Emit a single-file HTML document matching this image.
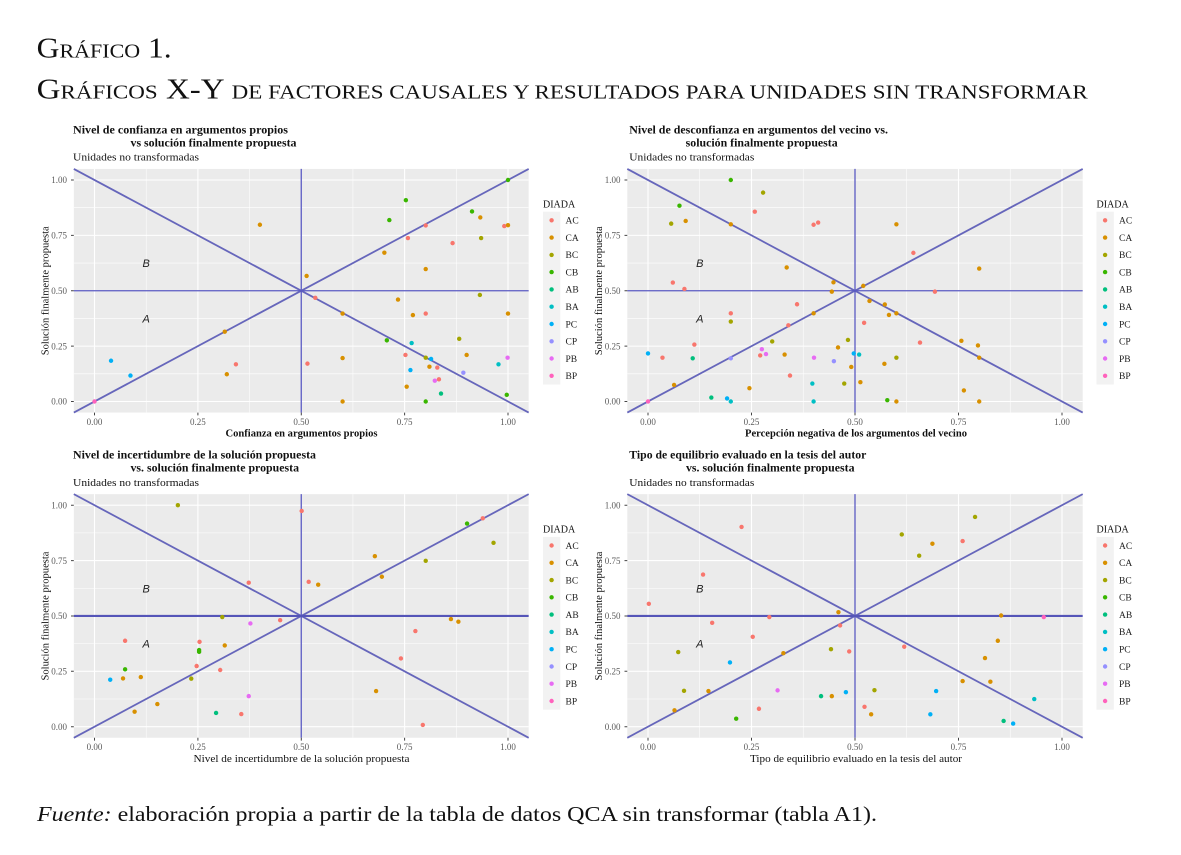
<!DOCTYPE html>
<html><head><meta charset="utf-8">
<style>
html,body{margin:0;padding:0;background:#fff;}
svg{display:block;}
.ac{fill:#F8766D}.ca{fill:#D89000}.bc{fill:#A3A500}.cb{fill:#39B600}.ab{fill:#00BF7D}
.ba{fill:#00BFC4}.pc{fill:#00B0F6}.cp{fill:#9590FF}.pb{fill:#E76BF3}.bp{fill:#FF62BC}
.ser{font-family:"Liberation Serif",serif;}
.tk{font-family:"Liberation Serif",serif;font-size:9px;fill:#5a5a5a;}
.tt{font-family:"Liberation Serif",serif;font-size:11.5px;font-weight:bold;fill:#111;}
.st{font-family:"Liberation Serif",serif;font-size:11px;fill:#111;}
.ax{font-family:"Liberation Serif",serif;font-size:10.5px;fill:#111;}
.lg{font-family:"Liberation Serif",serif;font-size:9.5px;fill:#222;}
.ab2{font-family:"Liberation Sans",sans-serif;font-size:11px;font-style:italic;fill:#222;}
.mi{stroke:#fff;stroke-width:.55;fill:none;}
.ma{stroke:#fff;stroke-width:1.1;fill:none;}
.dg{stroke:#6666bb;stroke-width:1.8;fill:none;}
.hv{stroke:#5a5ac2;stroke-width:1.3;fill:none;}
.hv2{stroke:#5555b8;stroke-width:2.2;fill:none;}
</style></head>
<body>
<svg width="1181" height="855" viewBox="0 0 1181 855" xmlns="http://www.w3.org/2000/svg">
<defs>
<circle id="d" r="1" transform="scale(0.00532 0.00993)"/>
<g id="bg">
<rect x="-0.05" y="-0.05" width="1.1" height="1.1" fill="#ebebeb"/>
<path class="mi" vector-effect="non-scaling-stroke" d="M.125 -.05V1.05M.375 -.05V1.05M.625 -.05V1.05M.875 -.05V1.05M-.05 .125H1.05M-.05 .375H1.05M-.05 .625H1.05M-.05 .875H1.05"/>
<path class="ma" vector-effect="non-scaling-stroke" d="M0 -.05V1.05M.25 -.05V1.05M.5 -.05V1.05M.75 -.05V1.05M1 -.05V1.05M-.05 0H1.05M-.05 .25H1.05M-.05 .5H1.05M-.05 .75H1.05M-.05 1H1.05"/>
</g>
</defs>

<!-- Main title -->
<text class="ser" x="36.7" y="57.7" font-size="28" fill="#111" textLength="135" lengthAdjust="spacingAndGlyphs">G<tspan font-size="19.5">RÁFICO</tspan> 1.</text>
<text class="ser" x="36.7" y="98.3" font-size="28" fill="#111" textLength="1051" lengthAdjust="spacingAndGlyphs">G<tspan font-size="19.5">RÁFICOS</tspan> X-Y <tspan font-size="19.5">DE FACTORES CAUSALES Y RESULTADOS PARA UNIDADES SIN TRANSFORMAR</tspan></text>

<!-- ============ TOP LEFT ============ -->
<text class="tt" x="73" y="133.3" textLength="215" lengthAdjust="spacingAndGlyphs">Nivel de confianza en argumentos propios</text>
<text class="tt" x="130.5" y="146.3" textLength="166" lengthAdjust="spacingAndGlyphs">vs solución finalmente propuesta</text>
<text class="st" x="73" y="160.7" textLength="126" lengthAdjust="spacingAndGlyphs">Unidades no transformadas</text>
<g transform="translate(94.5 401.5) scale(413.5 -221.5)">
<use href="#bg"/>
<path class="dg" vector-effect="non-scaling-stroke" d="M-.05 -.05L1.05 1.05M-.05 1.05L1.05 -.05"/>
<path class="hv" vector-effect="non-scaling-stroke" d="M.5 -.05V1.05M-.05 .5H1.05"/>
<use href="#d" x="1" y="1" class="cb"/><use href="#d" x=".753" y=".909" class="cb"/><use href="#d" x=".713" y=".819" class="cb"/><use href="#d" x=".913" y=".858" class="cb"/>
<use href="#d" x=".933" y=".831" class="ca"/><use href="#d" x=".991" y=".792" class="ac"/><use href="#d" x="1" y=".796" class="ca"/><use href="#d" x=".4" y=".798" class="ca"/>
<use href="#d" x=".801" y=".795" class="ac"/><use href="#d" x=".758" y=".738" class="ac"/><use href="#d" x=".935" y=".738" class="bc"/><use href="#d" x=".866" y=".715" class="ac"/>
<use href="#d" x=".701" y=".672" class="ca"/><use href="#d" x=".801" y=".598" class="ca"/><use href="#d" x=".513" y=".567" class="ca"/><use href="#d" x=".534" y=".468" class="ac"/>
<use href="#d" x=".932" y=".481" class="bc"/><use href="#d" x=".734" y=".46" class="ca"/><use href="#d" x=".6" y=".397" class="ca"/><use href="#d" x=".77" y=".39" class="ca"/>
<use href="#d" x=".801" y=".397" class="ac"/><use href="#d" x="1" y=".397" class="ca"/><use href="#d" x=".315" y=".315" class="ca"/><use href="#d" x=".707" y=".276" class="cb"/>
<use href="#d" x=".767" y=".264" class="ba"/><use href="#d" x=".882" y=".283" class="bc"/><use href="#d" x=".752" y=".21" class="ac"/><use href="#d" x=".9" y=".21" class="ca"/>
<use href="#d" x=".801" y=".198" class="bc"/><use href="#d" x=".814" y=".192" class="pc"/><use href="#d" x=".6" y=".196" class="ca"/><use href="#d" x=".04" y=".184" class="pc"/>
<use href="#d" x=".342" y=".168" class="ac"/><use href="#d" x=".515" y=".171" class="ac"/><use href="#d" x=".977" y=".168" class="ba"/><use href="#d" x=".999" y=".198" class="pb"/>
<use href="#d" x=".81" y=".157" class="ca"/><use href="#d" x=".829" y=".153" class="ac"/><use href="#d" x=".764" y=".142" class="pc"/><use href="#d" x=".087" y=".117" class="pc"/>
<use href="#d" x=".32" y=".123" class="ca"/><use href="#d" x=".892" y=".13" class="cp"/><use href="#d" x=".823" y=".094" class="pb"/><use href="#d" x=".833" y=".1" class="ac"/>
<use href="#d" x=".755" y=".067" class="ca"/><use href="#d" x=".838" y=".036" class="ab"/><use href="#d" x=".997" y=".03" class="cb"/><use href="#d" x=".801" y="0" class="cb"/>
<use href="#d" x=".6" y="0" class="ca"/><use href="#d" x="0" y="0" class="bp"/>
</g>
<text class="ab2" x="146.2" y="267.1" text-anchor="middle">B</text>
<text class="ab2" x="146.2" y="322.5" text-anchor="middle">A</text>
<path d="M71 180H73.8M71 235.4H73.8M71 290.8H73.8M71 346.1H73.8M71 401.5H73.8M94.5 412.6V415.4M197.9 412.6V415.4M301.3 412.6V415.4M404.6 412.6V415.4M508 412.6V415.4" stroke="#444" stroke-width="1"/>
<g class="tk" text-anchor="end"><text x="67" y="183.2">1.00</text><text x="67" y="238.6">0.75</text><text x="67" y="294">0.50</text><text x="67" y="349.3">0.25</text><text x="67" y="404.7">0.00</text></g>
<g class="tk" text-anchor="middle"><text x="94.5" y="425">0.00</text><text x="197.9" y="425">0.25</text><text x="301.3" y="425">0.50</text><text x="404.6" y="425">0.75</text><text x="508" y="425">1.00</text></g>
<text class="ax" font-weight="bold" x="301.5" y="436.5" text-anchor="middle" textLength="152" lengthAdjust="spacingAndGlyphs">Confianza en argumentos propios</text>
<text class="ax" transform="translate(48.5 290.8) rotate(-90)" text-anchor="middle" textLength="129" lengthAdjust="spacingAndGlyphs">Solución finalmente propuesta</text>
<!-- legend TL -->
<text class="ser" x="543" y="207.5" font-size="10" fill="#111">DIADA</text>
<rect x="543" y="211.7" width="17.3" height="172.8" fill="#f2f2f2"/>
<g>
<circle cx="551.6" cy="220.3" r="2.2" class="ac"/><circle cx="551.6" cy="237.6" r="2.2" class="ca"/><circle cx="551.6" cy="254.9" r="2.2" class="bc"/><circle cx="551.6" cy="272.1" r="2.2" class="cb"/><circle cx="551.6" cy="289.4" r="2.2" class="ab"/>
<circle cx="551.6" cy="306.7" r="2.2" class="ba"/><circle cx="551.6" cy="324" r="2.2" class="pc"/><circle cx="551.6" cy="341.3" r="2.2" class="cp"/><circle cx="551.6" cy="358.5" r="2.2" class="pb"/><circle cx="551.6" cy="375.8" r="2.2" class="bp"/>
</g>
<g class="lg"><text x="565.5" y="223.6">AC</text><text x="565.5" y="240.9">CA</text><text x="565.5" y="258.2">BC</text><text x="565.5" y="275.4">CB</text><text x="565.5" y="292.7">AB</text><text x="565.5" y="310">BA</text><text x="565.5" y="327.3">PC</text><text x="565.5" y="344.6">CP</text><text x="565.5" y="361.8">PB</text><text x="565.5" y="379.1">BP</text></g>

<!-- ============ TOP RIGHT ============ -->
<text class="tt" x="629.3" y="133.3" textLength="258.7" lengthAdjust="spacingAndGlyphs">Nivel de desconfianza en argumentos del vecino vs.</text>
<text class="tt" x="685.7" y="146.3" textLength="152" lengthAdjust="spacingAndGlyphs">solución finalmente propuesta</text>
<text class="st" x="629.3" y="160.7" textLength="125" lengthAdjust="spacingAndGlyphs">Unidades no transformadas</text>
<g transform="translate(648 401.5) scale(414 -221.5)">
<use href="#bg"/>
<path class="dg" vector-effect="non-scaling-stroke" d="M-.05 -.05L1.05 1.05M-.05 1.05L1.05 -.05"/>
<path class="hv" vector-effect="non-scaling-stroke" d="M.5 -.05V1.05M-.05 .5H1.05"/>
<use href="#d" x=".2" y="1" class="cb"/><use href="#d" x=".278" y=".943" class="bc"/><use href="#d" x=".076" y=".884" class="cb"/><use href="#d" x=".056" y=".803" class="bc"/>
<use href="#d" x=".091" y=".815" class="ca"/><use href="#d" x=".258" y=".857" class="ac"/><use href="#d" x=".2" y=".8" class="ca"/><use href="#d" x=".4" y=".798" class="ac"/>
<use href="#d" x=".411" y=".808" class="ac"/><use href="#d" x=".6" y=".8" class="ca"/><use href="#d" x=".641" y=".671" class="ac"/><use href="#d" x=".8" y=".6" class="ca"/>
<use href="#d" x=".335" y=".605" class="ca"/><use href="#d" x=".06" y=".537" class="ac"/><use href="#d" x=".088" y=".508" class="ac"/><use href="#d" x=".448" y=".538" class="ca"/>
<use href="#d" x=".444" y=".496" class="ca"/><use href="#d" x=".52" y=".522" class="ca"/><use href="#d" x=".693" y=".496" class="ac"/><use href="#d" x=".535" y=".454" class="ca"/>
<use href="#d" x=".572" y=".438" class="ca"/><use href="#d" x=".582" y=".391" class="ca"/><use href="#d" x=".6" y=".398" class="ca"/><use href="#d" x=".36" y=".439" class="ac"/>
<use href="#d" x=".4" y=".398" class="ca"/><use href="#d" x=".2" y=".398" class="ac"/><use href="#d" x=".2" y=".361" class="bc"/><use href="#d" x=".339" y=".344" class="ac"/>
<use href="#d" x=".522" y=".355" class="ac"/><use href="#d" x=".657" y=".266" class="ac"/><use href="#d" x=".112" y=".257" class="ac"/><use href="#d" x=".483" y=".278" class="bc"/>
<use href="#d" x=".3" y=".271" class="bc"/><use href="#d" x=".459" y=".244" class="ca"/><use href="#d" x=".757" y=".274" class="ca"/><use href="#d" x=".797" y=".253" class="ca"/>
<use href="#d" x=".8" y=".198" class="ca"/><use href="#d" x="0" y=".217" class="pc"/><use href="#d" x=".035" y=".198" class="ac"/><use href="#d" x=".108" y=".195" class="ab"/>
<use href="#d" x=".2" y=".195" class="cp"/><use href="#d" x=".275" y=".236" class="pb"/><use href="#d" x=".271" y=".208" class="ac"/><use href="#d" x=".285" y=".214" class="pb"/>
<use href="#d" x=".33" y=".212" class="ca"/><use href="#d" x=".401" y=".198" class="pb"/><use href="#d" x=".449" y=".182" class="cp"/><use href="#d" x=".497" y=".217" class="pc"/>
<use href="#d" x=".51" y=".212" class="ba"/><use href="#d" x=".491" y=".156" class="ca"/><use href="#d" x=".571" y=".17" class="ca"/><use href="#d" x=".6" y=".198" class="bc"/>
<use href="#d" x=".343" y=".117" class="ac"/><use href="#d" x=".063" y=".075" class="ca"/><use href="#d" x=".245" y=".06" class="ca"/><use href="#d" x=".474" y=".081" class="bc"/>
<use href="#d" x=".513" y=".087" class="ca"/><use href="#d" x=".397" y=".081" class="ba"/><use href="#d" x=".763" y=".05" class="ca"/><use href="#d" x=".153" y=".018" class="ab"/>
<use href="#d" x=".191" y=".014" class="pc"/><use href="#d" x=".2" y="0" class="ba"/><use href="#d" x=".4" y="0" class="ba"/><use href="#d" x=".578" y=".006" class="cb"/>
<use href="#d" x=".6" y="0" class="ca"/><use href="#d" x=".8" y="0" class="ca"/><use href="#d" x="0" y="0" class="bp"/>
</g>
<text class="ab2" x="699.8" y="267.1" text-anchor="middle">B</text>
<text class="ab2" x="699.8" y="322.5" text-anchor="middle">A</text>
<path d="M624.5 180H627.3M624.5 235.4H627.3M624.5 290.8H627.3M624.5 346.1H627.3M624.5 401.5H627.3M648 412.6V415.4M751.5 412.6V415.4M855 412.6V415.4M958.5 412.6V415.4M1062 412.6V415.4" stroke="#444" stroke-width="1"/>
<g class="tk" text-anchor="end"><text x="620.5" y="183.2">1.00</text><text x="620.5" y="238.6">0.75</text><text x="620.5" y="294">0.50</text><text x="620.5" y="349.3">0.25</text><text x="620.5" y="404.7">0.00</text></g>
<g class="tk" text-anchor="middle"><text x="648" y="425">0.00</text><text x="751.5" y="425">0.25</text><text x="855" y="425">0.50</text><text x="958.5" y="425">0.75</text><text x="1062" y="425">1.00</text></g>
<text class="ax" font-weight="bold" x="856" y="436.5" text-anchor="middle" textLength="222" lengthAdjust="spacingAndGlyphs">Percepción negativa de los argumentos del vecino</text>
<text class="ax" transform="translate(602 290.8) rotate(-90)" text-anchor="middle" textLength="129" lengthAdjust="spacingAndGlyphs">Solución finalmente propuesta</text>
<!-- legend TR -->
<text class="ser" x="1096.5" y="207.5" font-size="10" fill="#111">DIADA</text>
<rect x="1096.5" y="211.7" width="17.3" height="172.8" fill="#f2f2f2"/>
<g>
<circle cx="1105.1" cy="220.3" r="2.2" class="ac"/><circle cx="1105.1" cy="237.6" r="2.2" class="ca"/><circle cx="1105.1" cy="254.9" r="2.2" class="bc"/><circle cx="1105.1" cy="272.1" r="2.2" class="cb"/><circle cx="1105.1" cy="289.4" r="2.2" class="ab"/>
<circle cx="1105.1" cy="306.7" r="2.2" class="ba"/><circle cx="1105.1" cy="324" r="2.2" class="pc"/><circle cx="1105.1" cy="341.3" r="2.2" class="cp"/><circle cx="1105.1" cy="358.5" r="2.2" class="pb"/><circle cx="1105.1" cy="375.8" r="2.2" class="bp"/>
</g>
<g class="lg"><text x="1119" y="223.6">AC</text><text x="1119" y="240.9">CA</text><text x="1119" y="258.2">BC</text><text x="1119" y="275.4">CB</text><text x="1119" y="292.7">AB</text><text x="1119" y="310">BA</text><text x="1119" y="327.3">PC</text><text x="1119" y="344.6">CP</text><text x="1119" y="361.8">PB</text><text x="1119" y="379.1">BP</text></g>

<!-- ============ BOTTOM LEFT ============ -->
<text class="tt" x="73" y="458.5" textLength="243" lengthAdjust="spacingAndGlyphs">Nivel de incertidumbre de la solución propuesta</text>
<text class="tt" x="130.5" y="471.5" textLength="168.5" lengthAdjust="spacingAndGlyphs">vs. solución finalmente propuesta</text>
<text class="st" x="73" y="485.9" textLength="126" lengthAdjust="spacingAndGlyphs">Unidades no transformadas</text>
<g transform="translate(94.5 726.7) scale(413.5 -221.5)">
<use href="#bg"/>
<path class="dg" vector-effect="non-scaling-stroke" d="M-.05 -.05L1.05 1.05M-.05 1.05L1.05 -.05"/>
<path class="hv" vector-effect="non-scaling-stroke" d="M.5 -.05V1.05"/>
<path class="hv2" vector-effect="non-scaling-stroke" d="M-.05 .5H1.05"/>
<use href="#d" x=".2016" y="1" class="bc"/><use href="#d" x=".501" y=".974" class="ac"/><use href="#d" x=".901" y=".917" class="cb"/><use href="#d" x=".939" y=".941" class="ac"/>
<use href="#d" x=".965" y=".83" class="bc"/><use href="#d" x=".678" y=".77" class="ca"/><use href="#d" x=".801" y=".749" class="bc"/><use href="#d" x=".695" y=".677" class="ca"/>
<use href="#d" x=".518" y=".654" class="ac"/><use href="#d" x=".541" y=".641" class="ca"/><use href="#d" x=".373" y=".65" class="ac"/><use href="#d" x=".309" y=".495" class="bc"/>
<use href="#d" x=".377" y=".466" class="pb"/><use href="#d" x=".449" y=".481" class="ac"/><use href="#d" x=".862" y=".486" class="ca"/><use href="#d" x=".88" y=".474" class="ca"/>
<use href="#d" x=".776" y=".432" class="ac"/><use href="#d" x=".074" y=".388" class="ac"/><use href="#d" x=".254" y=".383" class="ac"/><use href="#d" x=".253" y=".346" class="cb"/>
<use href="#d" x=".253" y=".338" class="cb"/><use href="#d" x=".315" y=".367" class="ca"/><use href="#d" x=".741" y=".308" class="ac"/><use href="#d" x=".247" y=".274" class="ac"/>
<use href="#d" x=".074" y=".259" class="cb"/><use href="#d" x=".304" y=".256" class="ac"/><use href="#d" x=".038" y=".212" class="pc"/><use href="#d" x=".069" y=".218" class="ca"/>
<use href="#d" x=".112" y=".224" class="ca"/><use href="#d" x=".234" y=".217" class="bc"/><use href="#d" x=".152" y=".102" class="ca"/><use href="#d" x=".097" y=".068" class="ca"/>
<use href="#d" x=".294" y=".062" class="ab"/><use href="#d" x=".355" y=".057" class="ac"/><use href="#d" x=".373" y=".138" class="pb"/><use href="#d" x=".681" y=".161" class="ca"/>
<use href="#d" x=".794" y=".008" class="ac"/>
</g>
<text class="ab2" x="146.2" y="592.3" text-anchor="middle">B</text>
<text class="ab2" x="146.2" y="647.7" text-anchor="middle">A</text>
<path d="M71 505.2H73.8M71 560.6H73.8M71 616H73.8M71 671.3H73.8M71 726.7H73.8M94.5 737.8V740.6M197.9 737.8V740.6M301.3 737.8V740.6M404.6 737.8V740.6M508 737.8V740.6" stroke="#444" stroke-width="1"/>
<g class="tk" text-anchor="end"><text x="67" y="508.4">1.00</text><text x="67" y="563.8">0.75</text><text x="67" y="619.2">0.50</text><text x="67" y="674.5">0.25</text><text x="67" y="729.9">0.00</text></g>
<g class="tk" text-anchor="middle"><text x="94.5" y="750.2">0.00</text><text x="197.9" y="750.2">0.25</text><text x="301.3" y="750.2">0.50</text><text x="404.6" y="750.2">0.75</text><text x="508" y="750.2">1.00</text></g>
<text class="ax" x="301.5" y="762" text-anchor="middle" textLength="216" lengthAdjust="spacingAndGlyphs">Nivel de incertidumbre de la solución propuesta</text>
<text class="ax" transform="translate(48.5 616) rotate(-90)" text-anchor="middle" textLength="129" lengthAdjust="spacingAndGlyphs">Solución finalmente propuesta</text>
<!-- legend BL -->
<text class="ser" x="543" y="532.7" font-size="10" fill="#111">DIADA</text>
<rect x="543" y="536.9" width="17.3" height="172.8" fill="#f2f2f2"/>
<g>
<circle cx="551.6" cy="545.5" r="2.2" class="ac"/><circle cx="551.6" cy="562.8" r="2.2" class="ca"/><circle cx="551.6" cy="580.1" r="2.2" class="bc"/><circle cx="551.6" cy="597.3" r="2.2" class="cb"/><circle cx="551.6" cy="614.6" r="2.2" class="ab"/>
<circle cx="551.6" cy="631.9" r="2.2" class="ba"/><circle cx="551.6" cy="649.2" r="2.2" class="pc"/><circle cx="551.6" cy="666.5" r="2.2" class="cp"/><circle cx="551.6" cy="683.7" r="2.2" class="pb"/><circle cx="551.6" cy="701" r="2.2" class="bp"/>
</g>
<g class="lg"><text x="565.5" y="548.8">AC</text><text x="565.5" y="566.1">CA</text><text x="565.5" y="583.4">BC</text><text x="565.5" y="600.6">CB</text><text x="565.5" y="617.9">AB</text><text x="565.5" y="635.2">BA</text><text x="565.5" y="652.5">PC</text><text x="565.5" y="669.8">CP</text><text x="565.5" y="687">PB</text><text x="565.5" y="704.3">BP</text></g>

<!-- ============ BOTTOM RIGHT ============ -->
<text class="tt" x="629.3" y="458.5" textLength="237" lengthAdjust="spacingAndGlyphs">Tipo de equilibrio evaluado en la tesis del autor</text>
<text class="tt" x="686" y="471.5" textLength="168.5" lengthAdjust="spacingAndGlyphs">vs. solución finalmente propuesta</text>
<text class="st" x="629.3" y="485.9" textLength="125" lengthAdjust="spacingAndGlyphs">Unidades no transformadas</text>
<g transform="translate(648 726.7) scale(414 -221.5)">
<use href="#bg"/>
<path class="dg" vector-effect="non-scaling-stroke" d="M-.05 -.05L1.05 1.05M-.05 1.05L1.05 -.05"/>
<path class="hv" vector-effect="non-scaling-stroke" d="M.5 -.05V1.05"/>
<path class="hv2" vector-effect="non-scaling-stroke" d="M-.05 .5H1.05"/>
<use href="#d" x=".226" y=".902" class="ac"/><use href="#d" x=".79" y=".947" class="bc"/><use href="#d" x=".613" y=".868" class="bc"/><use href="#d" x=".687" y=".826" class="ca"/>
<use href="#d" x=".76" y=".838" class="ac"/><use href="#d" x=".655" y=".772" class="bc"/><use href="#d" x=".133" y=".687" class="ac"/><use href="#d" x=".002" y=".555" class="ac"/>
<use href="#d" x=".46" y=".517" class="ca"/><use href="#d" x=".293" y=".495" class="ac"/><use href="#d" x=".853" y=".502" class="ca"/><use href="#d" x=".956" y=".495" class="bp"/>
<use href="#d" x=".155" y=".469" class="ac"/><use href="#d" x=".464" y=".457" class="ac"/><use href="#d" x=".253" y=".406" class="ac"/><use href="#d" x=".845" y=".388" class="ca"/>
<use href="#d" x=".619" y=".361" class="ac"/><use href="#d" x=".073" y=".337" class="bc"/><use href="#d" x=".327" y=".332" class="ca"/><use href="#d" x=".442" y=".35" class="bc"/>
<use href="#d" x=".486" y=".34" class="ac"/><use href="#d" x=".814" y=".31" class="ca"/><use href="#d" x=".198" y=".29" class="pc"/><use href="#d" x=".76" y=".206" class="ca"/>
<use href="#d" x=".827" y=".203" class="ca"/><use href="#d" x=".087" y=".162" class="bc"/><use href="#d" x=".146" y=".161" class="ca"/><use href="#d" x=".313" y=".164" class="pb"/>
<use href="#d" x=".547" y=".165" class="bc"/><use href="#d" x=".478" y=".156" class="pc"/><use href="#d" x=".696" y=".161" class="pc"/><use href="#d" x=".418" y=".138" class="ab"/>
<use href="#d" x=".444" y=".138" class="ca"/><use href="#d" x=".933" y=".125" class="ba"/><use href="#d" x=".064" y=".074" class="ca"/><use href="#d" x=".268" y=".081" class="ac"/>
<use href="#d" x=".523" y=".09" class="ac"/><use href="#d" x=".539" y=".056" class="ca"/><use href="#d" x=".682" y=".056" class="pc"/><use href="#d" x=".213" y=".036" class="cb"/>
<use href="#d" x=".859" y=".026" class="ab"/><use href="#d" x=".882" y=".014" class="pc"/>
</g>
<text class="ab2" x="699.8" y="592.3" text-anchor="middle">B</text>
<text class="ab2" x="699.8" y="647.7" text-anchor="middle">A</text>
<path d="M624.5 505.2H627.3M624.5 560.6H627.3M624.5 616H627.3M624.5 671.3H627.3M624.5 726.7H627.3M648 737.8V740.6M751.5 737.8V740.6M855 737.8V740.6M958.5 737.8V740.6M1062 737.8V740.6" stroke="#444" stroke-width="1"/>
<g class="tk" text-anchor="end"><text x="620.5" y="508.4">1.00</text><text x="620.5" y="563.8">0.75</text><text x="620.5" y="619.2">0.50</text><text x="620.5" y="674.5">0.25</text><text x="620.5" y="729.9">0.00</text></g>
<g class="tk" text-anchor="middle"><text x="648" y="750.2">0.00</text><text x="751.5" y="750.2">0.25</text><text x="855" y="750.2">0.50</text><text x="958.5" y="750.2">0.75</text><text x="1062" y="750.2">1.00</text></g>
<text class="ax" x="856" y="762" text-anchor="middle" textLength="212" lengthAdjust="spacingAndGlyphs">Tipo de equilibrio evaluado en la tesis del autor</text>
<text class="ax" transform="translate(602 616) rotate(-90)" text-anchor="middle" textLength="129" lengthAdjust="spacingAndGlyphs">Solución finalmente propuesta</text>
<!-- legend BR -->
<text class="ser" x="1096.5" y="532.7" font-size="10" fill="#111">DIADA</text>
<rect x="1096.5" y="536.9" width="17.3" height="172.8" fill="#f2f2f2"/>
<g>
<circle cx="1105.1" cy="545.5" r="2.2" class="ac"/><circle cx="1105.1" cy="562.8" r="2.2" class="ca"/><circle cx="1105.1" cy="580.1" r="2.2" class="bc"/><circle cx="1105.1" cy="597.3" r="2.2" class="cb"/><circle cx="1105.1" cy="614.6" r="2.2" class="ab"/>
<circle cx="1105.1" cy="631.9" r="2.2" class="ba"/><circle cx="1105.1" cy="649.2" r="2.2" class="pc"/><circle cx="1105.1" cy="666.5" r="2.2" class="cp"/><circle cx="1105.1" cy="683.7" r="2.2" class="pb"/><circle cx="1105.1" cy="701" r="2.2" class="bp"/>
</g>
<g class="lg"><text x="1119" y="548.8">AC</text><text x="1119" y="566.1">CA</text><text x="1119" y="583.4">BC</text><text x="1119" y="600.6">CB</text><text x="1119" y="617.9">AB</text><text x="1119" y="635.2">BA</text><text x="1119" y="652.5">PC</text><text x="1119" y="669.8">CP</text><text x="1119" y="687">PB</text><text x="1119" y="704.3">BP</text></g>

<!-- Footer -->
<text class="ser" x="37" y="821" font-size="21" fill="#111" textLength="840" lengthAdjust="spacingAndGlyphs"><tspan font-style="italic">Fuente:</tspan> elaboración propia a partir de la tabla de datos QCA sin transformar (tabla A1).</text>
</svg>
</body></html>
